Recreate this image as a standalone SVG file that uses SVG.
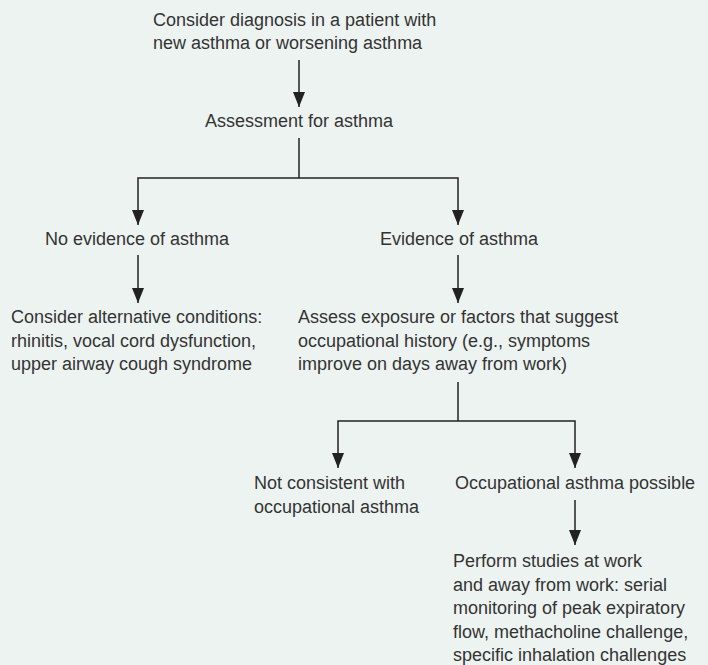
<svg xmlns="http://www.w3.org/2000/svg" width="708" height="665" viewBox="0 0 708 665">
  <style>
    .t { font-family: "Liberation Sans", Arial, sans-serif; font-size: 18px; fill: #333333; }
    .c { fill: none; stroke: #222222; stroke-width: 1.5; }
  </style>
  <defs>
    <marker id="ah" markerUnits="userSpaceOnUse" markerWidth="15" markerHeight="12" refX="15" refY="6" orient="auto">
      <path d="M0,0 L15,6 L0,12 z" fill="#222222"/>
    </marker>
  </defs>
  <rect width="708" height="665" fill="#EDF3F1"/>
  <g id="connectors">
    <path class="c" d="M299,60 V107" marker-end="url(#ah)"/>
    <path class="c" d="M299,138 V178"/>
    <path class="c" d="M299,178 H138 V225" marker-end="url(#ah)"/>
    <path class="c" d="M299,178 H458 V225" marker-end="url(#ah)"/>
    <path class="c" d="M138,255 V303" marker-end="url(#ah)"/>
    <path class="c" d="M458,255 V303" marker-end="url(#ah)"/>
    <path class="c" d="M458,382 V421"/>
    <path class="c" d="M458,421 H338 V468" marker-end="url(#ah)"/>
    <path class="c" d="M458,421 H575 V468" marker-end="url(#ah)"/>
    <path class="c" d="M575,500 V545" marker-end="url(#ah)"/>
  </g>
  <g id="start">
    <text class="t" x="153" y="26">Consider diagnosis in a patient with</text>
    <text class="t" x="153" y="49">new asthma or worsening asthma</text>
  </g>
  <g id="assessment">
    <text class="t" x="205" y="127">Assessment for asthma</text>
  </g>
  <g id="no-evidence">
    <text class="t" x="45" y="245">No evidence of asthma</text>
  </g>
  <g id="evidence">
    <text class="t" x="380" y="245">Evidence of asthma</text>
  </g>
  <g id="alternatives">
    <text class="t" x="11" y="323">Consider alternative conditions:</text>
    <text class="t" x="11" y="346.5">rhinitis, vocal cord dysfunction,</text>
    <text class="t" x="11" y="370">upper airway cough syndrome</text>
  </g>
  <g id="assess-exposure">
    <text class="t" x="298" y="323">Assess exposure or factors that suggest</text>
    <text class="t" x="298" y="346.5">occupational history (e.g., symptoms</text>
    <text class="t" x="298" y="370">improve on days away from work)</text>
  </g>
  <g id="not-consistent">
    <text class="t" x="254" y="489">Not consistent with</text>
    <text class="t" x="254" y="512.5">occupational asthma</text>
  </g>
  <g id="possible">
    <text class="t" x="455" y="489">Occupational asthma possible</text>
  </g>
  <g id="studies">
    <text class="t" x="453" y="567">Perform studies at work</text>
    <text class="t" x="453" y="590.5">and away from work: serial</text>
    <text class="t" x="453" y="614">monitoring of peak expiratory</text>
    <text class="t" x="453" y="637.5">flow, methacholine challenge,</text>
    <text class="t" x="453" y="661">specific inhalation challenges</text>
  </g>
</svg>
